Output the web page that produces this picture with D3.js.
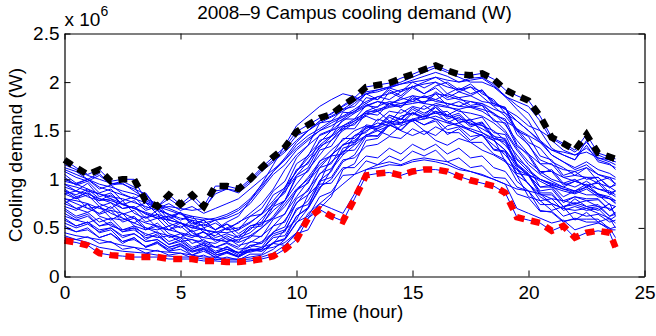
<!DOCTYPE html>
<html>
<head>
<meta charset="utf-8">
<script src="https://cdn.jsdelivr.net/npm/d3@7"></script>
<style>
  body { margin: 0; background: #fff; }
  svg { display: block; font-family: "Liberation Sans", Arial, Helvetica, sans-serif; }
</style>
</head>
<body>
<svg width="656" height="336"></svg>
<script>
// hours of the day (half-hourly samples, last one at 23:45)
const times = [0, 0.5, 1, 1.5, 2, 2.5, 3, 3.5, 4, 4.5, 5, 5.5, 6, 6.5, 7, 7.5, 8, 8.5, 9, 9.5,
  10, 10.5, 11, 11.5, 12, 12.5, 13, 13.5, 14, 14.5, 15, 15.5, 16, 16.5, 17, 17.5, 18, 18.5, 19, 19.5,
  20, 20.5, 21, 21.5, 22, 22.5, 23, 23.5, 23.75];

const xTicks = [0, 5, 10, 15, 20, 25];
const yTicks = [0, 0.5e6, 1e6, 1.5e6, 2e6, 2.5e6];

// demand values below are in units of 1e4 W
const upperEnvelope = [120,112,105,110,98,100,100,78,72,84,74,84,72,93,93,90,100,112,123,133,149,156,163,167,176,184,195,197,199,204,208,213,217,212,208,207,209,203,192,186,181,165,143,137,130,146,127,123,121];
const lowerEnvelope = [37,35,32,24,22,21,20,20,20,18,18,18,16,16,15,15,16,18,21,28,38,60,69,62,57,80,104,106,107,104,108,110,110,108,103,99,96,93,86,61,58,55,47,52,40,45,47,45,30];

const dailyProfiles = [
  [115,110,104,100,96,95,90,85,70,72,70,68,70,85,90,88,98,110,120,130,145,150,160,165,172,180,190,192,195,200,205,210,215,210,205,200,200,195,185,180,175,160,140,130,125,128,122,118,115],
  [105,96,100,90,94,85,80,86,70,64,58,62,50,55,48,56,62,70,88,98,122,135,158,160,172,175,188,182,192,186,196,188,196,200,192,198,188,182,168,152,138,132,118,112,104,112,98,102,95],
  [60,52,56,45,48,36,40,30,34,26,28,22,26,20,24,20,26,30,34,48,58,84,96,124,126,145,148,162,158,172,166,176,168,170,158,162,148,142,118,104,82,78,68,72,58,66,56,60,50],
  [80,75,70,72,65,60,55,50,45,42,40,38,35,30,28,25,25,28,30,35,45,60,75,85,95,105,110,112,115,114,118,120,118,115,110,108,105,100,95,90,88,85,80,78,75,78,72,70,65],
  [95,88,96,82,86,74,78,68,72,58,66,52,58,48,54,44,52,54,68,78,104,112,134,140,154,156,170,170,178,174,186,178,190,182,184,176,178,166,162,136,124,106,110,96,100,92,98,86,88],
  [45,42,40,38,35,32,30,28,26,25,24,22,20,20,18,18,20,22,28,38,55,70,90,110,125,135,145,150,155,158,160,162,165,160,155,150,145,135,125,110,95,85,75,70,68,70,65,60,55],
  [110,105,100,95,92,88,85,80,75,70,65,62,60,58,60,65,75,90,105,115,130,140,150,155,162,170,178,185,182,190,195,200,205,198,190,195,185,175,165,150,135,120,115,110,108,112,105,100,95],
  [85,80,88,75,70,78,65,60,68,55,50,58,45,42,50,40,45,55,60,75,90,100,115,125,135,140,150,155,160,158,162,165,168,165,162,160,155,150,140,125,110,100,95,90,88,92,85,80,78],
  [100,95,90,85,80,75,70,65,60,58,55,50,48,45,50,55,65,75,90,110,125,135,145,150,155,160,170,175,180,178,182,185,180,178,175,180,178,172,168,160,150,140,130,125,120,135,118,115,112],
  [55,50,54,46,50,40,44,36,38,30,34,26,30,24,28,24,32,34,44,48,68,78,98,102,120,122,134,136,144,142,152,146,154,148,148,138,138,126,120,98,88,68,66,56,60,56,56,48,48],
  [70,62,66,56,60,48,52,42,46,36,40,30,34,26,30,24,28,26,34,32,44,48,70,82,110,116,140,142,156,150,162,156,160,146,152,140,146,130,128,106,104,92,94,82,88,84,84,74,72],
  [90,82,86,78,80,70,72,60,64,52,56,46,50,40,44,40,52,56,76,86,110,116,140,144,162,162,176,174,190,184,194,188,194,184,190,186,192,176,174,150,144,124,120,104,108,100,102,92,94],
  [108,102,98,104,95,98,92,76,70,75,68,72,65,70,75,80,90,100,110,120,135,145,152,160,165,172,180,185,188,192,195,198,200,195,192,195,190,180,172,160,150,138,125,118,110,115,105,102,100],
  [65,58,62,52,54,46,48,40,42,33,36,28,32,24,28,22,28,28,42,46,70,74,95,96,112,112,124,122,132,126,136,130,136,126,132,122,124,112,108,92,88,74,74,62,66,62,64,56,58],
  [75,82,70,65,72,60,55,62,50,48,55,45,40,46,38,35,40,50,62,78,95,110,125,140,150,158,165,160,170,168,175,172,178,175,170,168,165,158,148,130,115,105,98,92,88,95,85,82,78],
  [40,38,35,30,28,26,25,24,22,21,20,20,18,18,17,17,18,20,24,32,45,65,75,70,65,85,110,115,118,115,120,122,120,118,112,108,104,100,95,70,65,60,55,58,48,52,55,50,40],
  [95,92,88,85,82,80,76,72,68,64,60,58,55,58,62,68,78,92,108,122,138,150,160,168,175,182,188,192,195,198,200,202,205,202,200,204,205,198,185,172,160,140,125,118,112,118,110,106,102],
  [80,78,75,70,68,65,60,55,52,48,45,42,40,38,36,38,42,50,60,72,88,102,118,130,140,150,155,150,145,155,160,150,145,155,158,150,145,140,130,115,105,98,92,88,85,90,82,80,75],
  [50,46,48,40,44,36,38,31,35,28,31,25,28,22,25,21,28,28,40,42,62,70,92,100,118,125,144,145,158,156,168,164,174,164,168,156,156,142,138,114,104,84,84,72,74,70,72,62,64],
  [112,108,100,106,94,96,88,80,72,80,72,80,68,88,90,86,96,108,118,128,140,150,158,164,170,178,188,190,194,198,202,206,210,206,200,202,204,196,186,176,168,150,132,125,120,140,120,116,110],
  [62,58,55,60,52,48,50,44,40,42,36,38,32,30,34,28,30,36,45,58,75,90,105,118,128,138,145,152,158,162,160,165,162,158,155,152,148,140,130,112,95,82,75,70,80,72,68,75,62],
  [88,80,84,72,76,64,68,56,60,48,52,42,46,36,42,36,50,52,72,78,102,108,130,134,152,152,168,166,178,174,184,178,188,176,180,174,176,160,158,134,126,108,108,94,98,94,96,84,88],
  [72,68,75,62,58,65,52,48,55,44,40,48,36,34,40,32,35,42,52,65,82,98,112,125,135,145,152,158,155,165,168,162,170,166,160,158,152,145,135,120,108,100,94,90,86,92,84,80,76],
  [58,52,56,48,50,42,44,36,38,30,33,26,29,22,25,20,27,26,35,38,56,62,82,87,104,105,119,115,124,119,129,124,130,118,122,112,114,102,101,85,81,67,67,57,59,59,59,49,51],
  [102,94,98,86,90,78,82,70,74,62,66,54,58,48,54,48,62,64,84,91,116,124,146,151,169,168,184,182,194,190,200,194,200,188,194,188,192,178,174,146,136,116,116,102,104,102,102,91,96],
  [78,70,74,64,68,56,60,48,52,40,44,34,38,30,35,30,42,41,59,64,89,96,119,124,142,142,156,154,166,161,172,166,176,166,172,161,164,148,146,121,112,92,92,78,82,80,80,68,72],
  [92,88,85,80,78,74,70,66,62,58,55,52,48,46,45,48,55,65,78,92,108,122,135,145,155,162,168,172,175,178,180,178,176,174,172,175,172,168,160,152,145,138,130,128,125,132,122,120,118],
  [42,38,41,34,36,28,30,24,27,22,24,19,22,17,20,17,23,23,35,39,62,71,99,108,132,136,154,154,166,162,174,168,174,162,166,156,159,144,142,116,106,86,86,72,76,72,74,62,66],
  [98,95,100,92,88,84,80,76,72,68,64,60,58,60,64,70,80,94,108,120,132,142,150,158,164,170,176,180,178,182,186,184,188,186,182,180,176,168,156,140,126,116,108,102,98,102,96,92,88],
  [68,60,64,52,56,46,50,38,44,33,38,28,34,24,31,24,36,34,52,56,80,88,112,116,136,138,154,152,164,158,169,164,170,158,164,154,158,142,140,114,104,88,90,76,82,78,79,68,72],
  [85,88,82,78,84,74,70,76,64,60,66,56,52,58,48,50,56,64,74,88,104,118,132,144,152,160,166,170,174,176,178,180,182,178,175,174,170,162,150,132,118,108,100,96,92,98,90,86,82],
  [52,46,50,40,44,34,40,30,36,26,32,22,28,19,26,20,32,30,46,51,76,84,106,111,129,130,146,144,156,151,162,156,162,151,154,144,146,131,129,104,96,78,80,68,72,68,70,58,62],
  [88,84,90,80,76,70,72,64,60,62,55,50,54,48,56,62,78,95,115,135,155,165,175,182,188,185,178,170,160,150,145,150,140,135,142,138,130,125,118,110,104,100,96,92,98,94,90,88,84],
  [75,70,66,72,60,58,62,50,48,52,44,40,46,38,36,42,48,60,72,90,108,125,138,150,160,168,175,180,176,184,180,186,182,188,184,186,180,178,172,165,155,150,142,135,128,138,125,120,118]
];

const unit = 1e4;

const svg = d3.select('svg');
const plot = {left: 64.5, right: 644.5, top: 33.5, bottom: 276.5};

const x = d3.scaleLinear().domain([0, 25]).range([plot.left, plot.right]);
const y = d3.scaleLinear().domain([0, 2.5e6]).range([plot.bottom, plot.top]);

const line = d3.line()
  .x((d, i) => x(times[i]))
  .y(d => y(d * unit));

// blue daily curves, envelopes included underneath the dashes
const g = svg.append('g');
g.selectAll('path.day')
  .data(dailyProfiles.concat([upperEnvelope, lowerEnvelope]))
  .enter().append('path')
    .attr('class', 'day')
    .attr('d', line)
    .attr('fill', 'none')
    .attr('stroke', '#0000ff')
    .attr('stroke-width', 1);

g.append('path')
  .attr('d', line(upperEnvelope))
  .attr('fill', 'none')
  .attr('stroke', '#000')
  .attr('stroke-width', 6.5)
  .attr('stroke-dasharray', '9,7');

g.append('path')
  .attr('d', line(lowerEnvelope))
  .attr('fill', 'none')
  .attr('stroke', '#ff0000')
  .attr('stroke-width', 6.5)
  .attr('stroke-dasharray', '9,7');

// axes, MATLAB style: ticks inside, box all round
const fontSize = 19;

svg.append('g')
  .attr('transform', `translate(0, ${plot.bottom})`)
  .call(d3.axisBottom(x).tickValues(xTicks).tickSizeInner(-6).tickSizeOuter(0).tickPadding(9));

svg.append('g')
  .attr('transform', `translate(${plot.left}, 0)`)
  .call(d3.axisLeft(y).tickValues(yTicks).tickSizeInner(-6).tickSizeOuter(0).tickPadding(5)
    .tickFormat(d => String(d / 1e6)));

svg.append('g')
  .attr('transform', `translate(0, ${plot.top})`)
  .call(d3.axisTop(x).tickValues(xTicks).tickSizeInner(-6).tickSizeOuter(0).tickFormat(''));

svg.append('g')
  .attr('transform', `translate(${plot.right}, 0)`)
  .call(d3.axisRight(y).tickValues(yTicks).tickSizeInner(-6).tickSizeOuter(0).tickFormat(''));

svg.selectAll('.domain').attr('stroke', '#000').attr('stroke-width', 1.2);
svg.selectAll('.tick line').attr('stroke', '#000');
svg.selectAll('.tick text')
  .attr('fill', '#000')
  .style('font-size', fontSize + 'px')
  .style('font-family', '"Liberation Sans", Arial, sans-serif');

// title, labels, exponent
svg.append('text')
  .attr('x', (plot.left + plot.right) / 2)
  .attr('y', 19)
  .attr('text-anchor', 'middle')
  .style('font-size', fontSize + 'px')
  .text('2008–9 Campus cooling demand (W)');

svg.append('text')
  .attr('x', (plot.left + plot.right) / 2)
  .attr('y', 318)
  .attr('text-anchor', 'middle')
  .style('font-size', fontSize + 'px')
  .text('Time (hour)');

svg.append('text')
  .attr('transform', `translate(22, ${(plot.top + plot.bottom) / 2}) rotate(-90)`)
  .attr('text-anchor', 'middle')
  .style('font-size', fontSize + 'px')
  .text('Cooling demand (W)');

const expo = svg.append('text')
  .attr('x', plot.left)
  .attr('y', 26)
  .style('font-size', fontSize + 'px')
  .text('x 10');
expo.append('tspan')
  .attr('dy', -10)
  .style('font-size', '14px')
  .text('6');
</script>
</body>
</html>
